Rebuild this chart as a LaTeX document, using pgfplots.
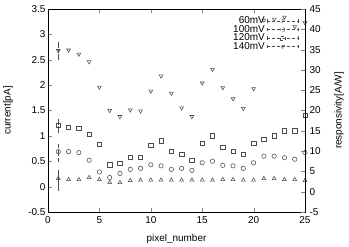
\documentclass[border=0pt]{standalone}
\usepackage{pgfplots}
\pgfplotsset{compat=1.18}
\usepackage{fontspec}
\setmainfont{Liberation Sans}
\definecolor{mk}{gray}{0.3}
\pgfplotsset{
  mylegend/.style={legend image code/.code={%
    \draw[mark repeat=2,mark phase=2,##1, sharp plot, densely dashed, line width=0.4pt]
      plot coordinates {(0cm,0cm)(0.55cm,0cm)(1.1cm,0cm)};
    \draw[solid, mk, line width=0.4pt] (0cm,-1.8pt)--(0cm,1.8pt) (1.1cm,-1.8pt)--(1.1cm,1.8pt);}}
}
\begin{document}
\begin{tikzpicture}[font=\fontsize{10}{12}\selectfont]
\begin{axis}[name=ax,
  scale only axis, width=257bp, height=203bp,
  xmin=0, xmax=25, ymin=-0.5, ymax=3.5,
  xtick={0,5,...,25}, ytick={-0.5,0,0.5,1,1.5,2,2.5,3,3.5},
  xtick pos=both, ytick pos=left,
  tick align=inside, major tick length=4pt,
  /pgf/number format/assume math mode=true,
  yticklabel style={/pgf/number format/fixed, xshift=1pt},
  xticklabel style={yshift=-1pt},
  xlabel={pixel\_number}, ylabel={current[pA]},
  every axis x label/.style={at={(rel axis cs:0.5,0)}, yshift=-27bp, anchor=center},
  every axis y label/.style={at={(rel axis cs:0,0.5)}, xshift=-40bp, rotate=90, anchor=center},
  axis line style={line width=0.8pt},
  legend style={at={(rel axis cs:0.975,0.972)}, anchor=north east, draw=none, fill=none,
    legend cell align=right, row sep=-4pt, inner sep=0pt,
    font=\fontsize{10}{11}\selectfont},
  legend plot pos=right,
  mylegend,
  every axis plot/.append style={mk, mark size=2.2pt, line width=0.55pt},
]
\addplot[only marks, mark=triangle, mk] coordinates {
(1,0.16)(2,0.14)(3,0.14)(4,0.18)(5,0.14)(6,0.08)(7,0.08)(8,0.12)(9,0.13)(10,0.13)
(11,0.13)(12,0.13)(13,0.13)(14,0.13)(15,0.13)(16,0.13)(17,0.14)(18,0.14)(19,0.13)(20,0.13)
(21,0.16)(22,0.16)(23,0.14)(24,0.14)(25,0.12)};
\addlegendentry{60mV}
\addplot[only marks, mark=o, mk] coordinates {
(1,0.69)(2,0.69)(3,0.67)(4,0.52)(5,0.29)(6,0.18)(7,0.26)(8,0.34)(9,0.36)(10,0.43)
(11,0.41)(12,0.34)(13,0.36)(14,0.32)(15,0.47)(16,0.50)(17,0.42)(18,0.41)(19,0.36)(20,0.47)
(21,0.60)(22,0.60)(23,0.57)(24,0.54)(25,0.67)};
\addlegendentry{100mV}
\addplot[only marks, mark=square, mk] coordinates {
(1,1.21)(2,1.17)(3,1.15)(4,1.03)(5,0.83)(6,0.43)(7,0.46)(8,0.58)(9,0.58)(10,0.82)
(11,0.90)(12,0.70)(13,0.64)(14,0.52)(15,0.85)(16,1.00)(17,0.78)(18,0.70)(19,0.64)(20,0.85)
(21,0.93)(22,1.00)(23,1.10)(24,1.10)(25,1.41)};
\addlegendentry{120mV}
\addplot[only marks, mark=triangle, mark options={rotate=180}, mk] coordinates {
(1,2.68)(2,2.69)(3,2.61)(4,2.46)(5,1.96)(6,1.50)(7,1.38)(8,1.51)(9,1.49)(10,1.88)
(11,2.18)(12,1.84)(13,1.55)(14,1.38)(15,2.04)(16,2.31)(17,1.95)(18,1.73)(19,1.54)(20,1.93)
(21,3.28)(22,3.30)(23,3.34)(24,3.15)(25,3.23)};
\addlegendentry{140mV}
\addplot[forget plot, mark=none, error bars/.cd, y dir=both, y explicit,
  error bar style={mk, line width=0.5pt, solid}, error mark options={mk, mark size=2pt}]
  coordinates {(1,0.125) +- (0,0.165)};
\addplot[forget plot, mark=none, error bars/.cd, y dir=both, y explicit,
  error bar style={mk, line width=0.5pt, densely dashed}, error mark options={mk, mark size=2pt, solid}]
  coordinates {(1,0.66) +- (0,0.14)};
\addplot[forget plot, mark=none, error bars/.cd, y dir=both, y explicit,
  error bar style={mk, line width=0.5pt, densely dotted}, error mark options={mk, mark size=2pt, solid}]
  coordinates {(1,1.19) +- (0,0.10)};
\addplot[forget plot, mark=none, error bars/.cd, y dir=both, y explicit,
  error bar style={mk, line width=0.5pt, densely dotted}, error mark options={mk, mark size=2pt, solid}]
  coordinates {(1,2.68) +- (0,0.14)};
\end{axis}
\begin{axis}[
  scale only axis, width=257bp, height=203bp,
  xmin=0, xmax=25, ymin=-5, ymax=45,
  axis x line=none, axis y line*=right,
  ytick={-5,0,...,45}, tick align=inside, major tick length=4pt,
  /pgf/number format/assume math mode=true,
  yticklabel style={xshift=1pt},
  ylabel={responsivity[A/W]},
  every axis y label/.style={at={(rel axis cs:1,0.5)}, xshift=34bp, rotate=90, anchor=center},
  axis line style={line width=0.8pt},
]
\end{axis}
\pgfresetboundingbox
\path[use as bounding box] ([xshift=-48bp,yshift=-35bp]ax.south west) rectangle ([xshift=44bp,yshift=9bp]ax.north east);
\end{tikzpicture}
\end{document}
